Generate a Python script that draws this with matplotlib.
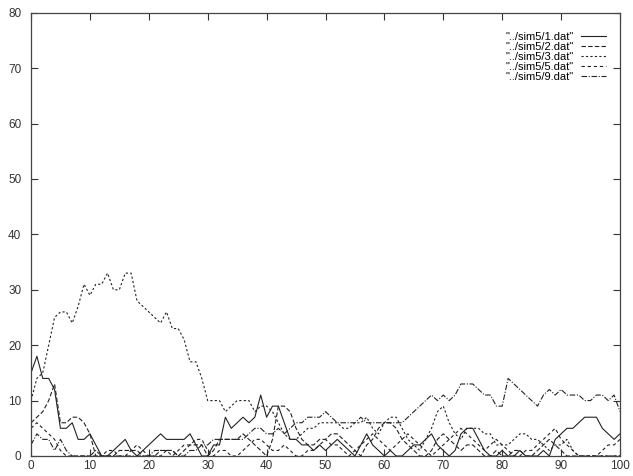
import matplotlib
matplotlib.use('Agg')
import matplotlib.pyplot as plt

plt.rcParams['font.family'] = ['Liberation Sans', 'DejaVu Sans']

x = list(range(101))

# "../sim5/1.dat"
sim1 = [15, 18, 14, 14, 12, 5, 5, 6, 3, 3, 4, 2, 0, 0, 1, 2, 3, 1, 0, 1,
        2, 3, 4, 3, 3, 3, 3, 4, 2, 0, 0, 2, 2, 7, 5, 6, 7, 6, 7, 11,
        7, 9, 9, 6, 3, 3, 2, 2, 1, 2, 1, 2, 3, 2, 1, 0, 2, 4, 2, 1,
        0, 1, 0, 0, 1, 2, 2, 3, 4, 2, 1, 0, 1, 4, 5, 5, 3, 1, 0, 0,
        1, 0, 0, 1, 0, 0, 0, 1, 0, 3, 4, 5, 5, 6, 7, 7, 7, 5, 4, 3, 4]
# "../sim5/2.dat"
sim2 = [6, 7, 8, 10, 13, 6, 6, 7, 7, 6, 4, 0, 0, 0, 0, 1, 1, 1, 1, 0,
        0, 0, 1, 1, 1, 0, 1, 2, 2, 2, 0, 1, 3, 3, 3, 3, 4, 3, 2, 1,
        0, 3, 9, 9, 8, 5, 3, 2, 2, 3, 3, 4, 4, 3, 2, 1, 0, 2, 3, 5,
        6, 6, 5, 3, 2, 1, 0, 0, 1, 3, 4, 3, 2, 1, 2, 2, 1, 0, 0, 1,
        0, 0, 1, 1, 0, 0, 1, 2, 3, 2, 1, 0, 0, 0, 0, 0, 0, 0, 0, 0, 0]
# "../sim5/3.dat"
sim3 = [10, 14, 15, 20, 25, 26, 26, 24, 27, 31, 29, 31, 31, 33, 30, 30, 33, 33, 28, 27,
        26, 25, 24, 26, 23, 23, 21, 17, 17, 14, 10, 10, 10, 8, 9, 10, 10, 10, 8, 9,
        9, 8, 6, 4, 3, 3, 4, 5, 5, 6, 6, 6, 6, 5, 5, 6, 6, 7, 5, 4,
        6, 7, 7, 5, 3, 2, 1, 3, 5, 8, 9, 6, 4, 3, 5, 5, 5, 4, 4, 2,
        2, 2, 3, 4, 4, 3, 3, 2, 1, 2, 2, 3, 1, 0, 0, 0, 0, 0, 0, 0, 0]
# "../sim5/5.dat"
sim5 = [5, 6, 5, 4, 3, 1, 0, 0, 0, 0, 0, 0, 0, 1, 1, 0, 0, 1, 2, 1,
        0, 0, 0, 1, 0, 1, 2, 2, 3, 3, 1, 0, 1, 1, 0, 0, 1, 2, 3, 3,
        2, 1, 1, 2, 1, 0, 0, 1, 1, 2, 3, 2, 2, 1, 0, 1, 2, 3, 4, 3,
        2, 1, 2, 3, 4, 3, 2, 1, 0, 1, 2, 3, 4, 5, 4, 3, 2, 1, 2, 3,
        2, 1, 0, 0, 1, 1, 2, 3, 4, 5, 3, 2, 1, 0, 0, 0, 0, 1, 2, 2, 3]
# "../sim5/9.dat"
sim9 = [2, 4, 3, 3, 1, 3, 1, 0, 0, 0, 0, 1, 0, 0, 0, 0, 0, 0, 0, 0,
        0, 1, 1, 1, 1, 0, 0, 1, 1, 2, 2, 3, 3, 3, 3, 3, 3, 4, 5, 5,
        4, 4, 5, 4, 5, 6, 6, 7, 7, 7, 8, 7, 6, 6, 6, 6, 7, 6, 6, 6,
        6, 6, 6, 6, 7, 8, 9, 10, 11, 10, 11, 10, 11, 13, 13, 13, 12, 11, 11, 9,
        9, 14, 13, 12, 11, 10, 9, 11, 12, 11, 12, 11, 11, 11, 10, 10, 11, 11, 10, 11, 8]

labels = ['"../sim5/1.dat"', '"../sim5/2.dat"', '"../sim5/3.dat"',
          '"../sim5/5.dat"', '"../sim5/9.dat"']
series = [sim1, sim2, sim3, sim5, sim9]
dashes = [None, (4, 2), (2, 2), (3, 2.5), (5, 1.5, 1, 1.5)]

fig = plt.figure(figsize=(6.33, 4.76), dpi=100)
ax = fig.add_axes([31 / 633, 20 / 476, 589 / 633, 443.3 / 476])

for vals, lab, d in zip(series, labels, dashes):
    line, = ax.plot(x, vals, color='#222222', linewidth=0.8, label=lab)
    if d is not None:
        line.set_dashes(d)

ax.set_xlim(0, 100)
ax.set_ylim(0, 80)
ax.set_xticks(range(0, 101, 10))
ax.set_yticks(range(0, 81, 10))
ax.tick_params(direction='in', length=5, width=0.8, top=True, right=True,
               labelsize=8.5, colors='#333333')
ax.tick_params(axis='y', pad=7)
ax.tick_params(axis='x', pad=3)
for s in ax.spines.values():
    s.set_color('#444444')
    s.set_linewidth(0.9)

ax.legend(loc='upper right', bbox_to_anchor=(0.99, 0.975), frameon=False,
          markerfirst=False, fontsize=8, handlelength=2.3,
          labelspacing=0.0, handletextpad=0.6, borderaxespad=0.3)

fig.savefig('out.png', dpi=100)
